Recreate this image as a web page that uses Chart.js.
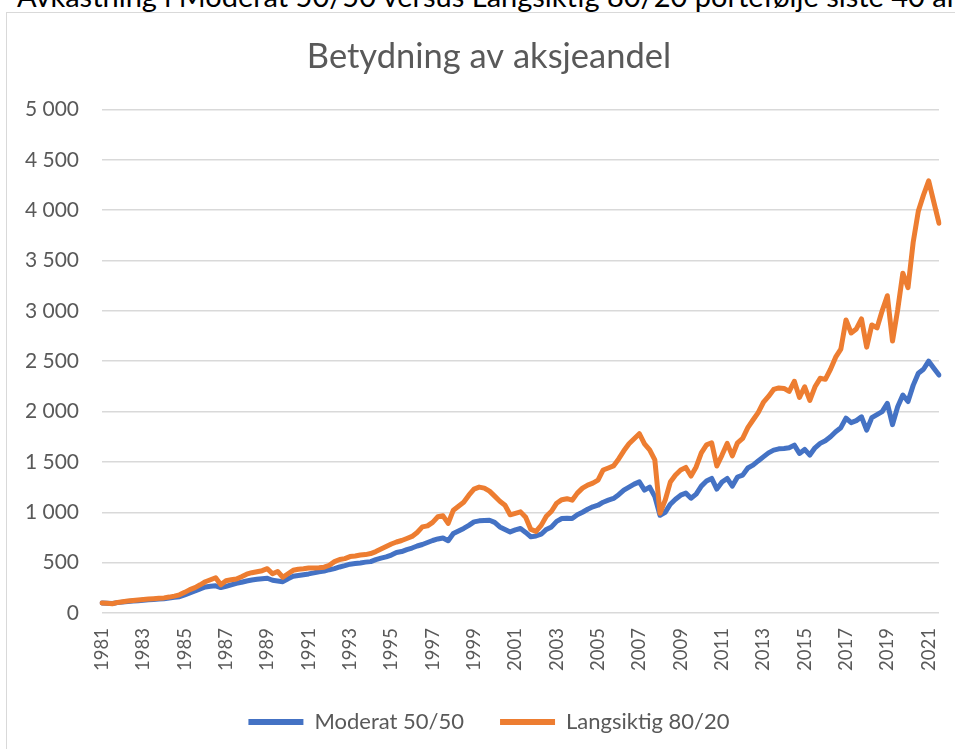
<!DOCTYPE html>
<html><head><meta charset="utf-8">
<script src="https://cdn.jsdelivr.net/npm/chart.js@4"></script>
<style>
html,body{margin:0;padding:0;background:#fff;overflow:hidden;width:955px;height:749px;}
#frame{position:absolute;left:6px;top:12px;width:1000px;height:800px;border:1.5px solid #d9d9d9;box-sizing:border-box;}
#cap{position:absolute;left:17px;top:-19px;font-family:Lato,sans-serif;font-size:29px;color:#000;white-space:nowrap;line-height:30px;}
#wrap{position:absolute;left:0;top:0;width:955px;height:749px;}
</style></head>
<body>
<div id="frame"></div>
<div id="cap">Avkastning i Moderat 50/50 versus Langsiktig 80/20 portefølje siste 40 år</div>
<div id="wrap"><canvas id="c" width="955" height="749"></canvas></div>
<script>
const chartTitle = 'Betydning av aksjeandel';
const seriesNames = ['Moderat 50/50', 'Langsiktig 80/20'];
const years = [1981,1982,1983,1984,1985,1986,1987,1988,1989,1990,1991,1992,1993,1994,1995,1996,1997,1998,1999,2000,2001,2002,2003,2004,2005,2006,2007,2008,2009,2010,2011,2012,2013,2014,2015,2016,2017,2018,2019,2020,2021];
const quarters = ['K1','K2','K3','K4'];
const yTicks = [0,500,1000,1500,2000,2500,3000,3500,4000,4500,5000];

const moderat = [
100,97,95,103,108,114,118,122,127,131,
135,139,142,148,155,162,180,200,219,240,
258,265,270,252,265,280,295,305,318,328,
335,341,345,325,318,311,340,364,372,380,
388,398,410,417,430,441,457,470,485,491,
497,505,510,530,545,557,575,600,610,630,
645,665,680,700,720,735,745,718,789,815,
840,870,905,915,918,921,900,855,830,805,
825,839,800,756,765,782,830,855,910,938,
940,938,975,1000,1030,1054,1070,1100,1120,1137,
1175,1220,1250,1280,1302,1220,1250,1155,970,1000,
1080,1130,1170,1190,1140,1180,1260,1310,1336,1230,
1300,1336,1260,1350,1369,1440,1468,1510,1550,1590,
1617,1630,1634,1640,1667,1584,1624,1568,1640,1684,
1710,1750,1800,1840,1935,1890,1910,1948,1816,1940,
1970,2000,2082,1870,2048,2164,2100,2260,2380,2420,
2500,2430,2363];

const langsiktig = [
100,96,92,105,112,119,125,130,135,138,
142,146,150,158,168,180,205,232,252,280,
310,330,350,280,320,330,338,360,385,400,
410,420,440,390,412,355,390,424,435,440,
447,448,450,455,474,510,531,540,560,566,
575,580,590,610,635,660,685,705,720,740,
760,800,855,865,900,955,965,890,1021,1060,
1100,1170,1230,1250,1240,1210,1160,1110,1070,975,
990,1004,950,830,810,870,960,1010,1090,1125,
1135,1120,1190,1240,1270,1290,1320,1420,1440,1460,
1530,1610,1680,1730,1780,1680,1620,1520,990,1120,
1300,1370,1420,1445,1360,1450,1590,1670,1690,1460,
1568,1684,1560,1690,1734,1840,1916,1990,2090,2150,
2220,2235,2230,2200,2300,2140,2246,2110,2246,2330,
2320,2420,2540,2620,2910,2780,2820,2920,2640,2860,
2830,3000,3150,2700,3009,3374,3230,3680,3990,4150,
4290,4080,3870];

const categories = years.flatMap(y => quarters.map(q => y + ' ' + q)).slice(0, moderat.length);

const grey = '#595959';
const fmt = v => v >= 1000 ? Math.floor(v/1000) + ' ' + String(v % 1000).padStart(3,'0') : String(v);

const shiftBlocks = {
  id: 'shiftBlocks',
  afterLayout(chart) {
    if (chart.legend) { chart.legend.left += 39; }
    if (chart.titleBlock) { chart.titleBlock.left += 39; }
  }
};

new Chart(document.getElementById('c'), {
  type: 'line',
  data: {
    labels: categories,
    datasets: [
      {label: seriesNames[0], data: moderat, borderColor: '#4472C4', backgroundColor: '#4472C4', borderWidth: 5, pointRadius: 0, tension: 0, order: 1, borderJoinStyle: 'round', borderCapStyle: 'round'},
      {label: seriesNames[1], data: langsiktig, borderColor: '#ED7D31', backgroundColor: '#ED7D31', borderWidth: 5, pointRadius: 0, tension: 0, order: 0, borderJoinStyle: 'round', borderCapStyle: 'round'}
    ]
  },
  plugins: [shiftBlocks],
  options: {
    responsive: false,
    animation: false,
    devicePixelRatio: 1,
    layout: {padding: {left: 0, right: 16, top: 0, bottom: 6}},
    plugins: {
      tooltip: {enabled: false},
      title: {display: true, text: chartTitle, color: grey, font: {family: 'Lato', size: 34.5, weight: 'normal', lineHeight: 1.2}, padding: {top: 36, bottom: 32}},
      legend: {
        position: 'bottom',
        labels: {
          color: grey, font: {family: 'Lato', size: 22}, boxWidth: 55, boxHeight: 6, padding: 36,
          sort: (a, b) => a.datasetIndex - b.datasetIndex,
          generateLabels: (chart) => chart.data.datasets.map((ds, i) => ({text: ds.label, fillStyle: ds.borderColor, strokeStyle: ds.borderColor, lineWidth: 0, datasetIndex: i, hidden: false, fontColor: grey}))
        }
      }
    },
    scales: {
      x: {
        type: 'category',
        grid: {display: false, drawTicks: false},
        border: {display: false},
        afterFit: s => { s.height = 62; s.paddingLeft = 0; s.paddingRight = 0; },
        ticks: {
          autoSkip: false, minRotation: 90, maxRotation: 90, padding: 15,
          color: grey, font: {family: 'Lato', size: 18.5},
          callback: function(value, index) {
            const lab = this.getLabelForValue(value);
            const y = parseInt(lab.slice(0,4));
            return (index % 4 === 0 && years.indexOf(y) % 2 === 0) ? String(y) : null;
          }
        }
      },
      y: {
        min: yTicks[0], max: yTicks[yTicks.length-1],
        afterFit: s => { s.width = 102; },
        afterBuildTicks: s => { s.ticks = yTicks.map(v => ({value: v})); },
        grid: {color: '#d9d9d9', lineWidth: 1.5, drawTicks: false},
        border: {display: false},
        ticks: {padding: 23, color: grey, font: {family: 'Lato', size: 21}, callback: v => fmt(v)}
      }
    }
  }
});
</script>
</body></html>
